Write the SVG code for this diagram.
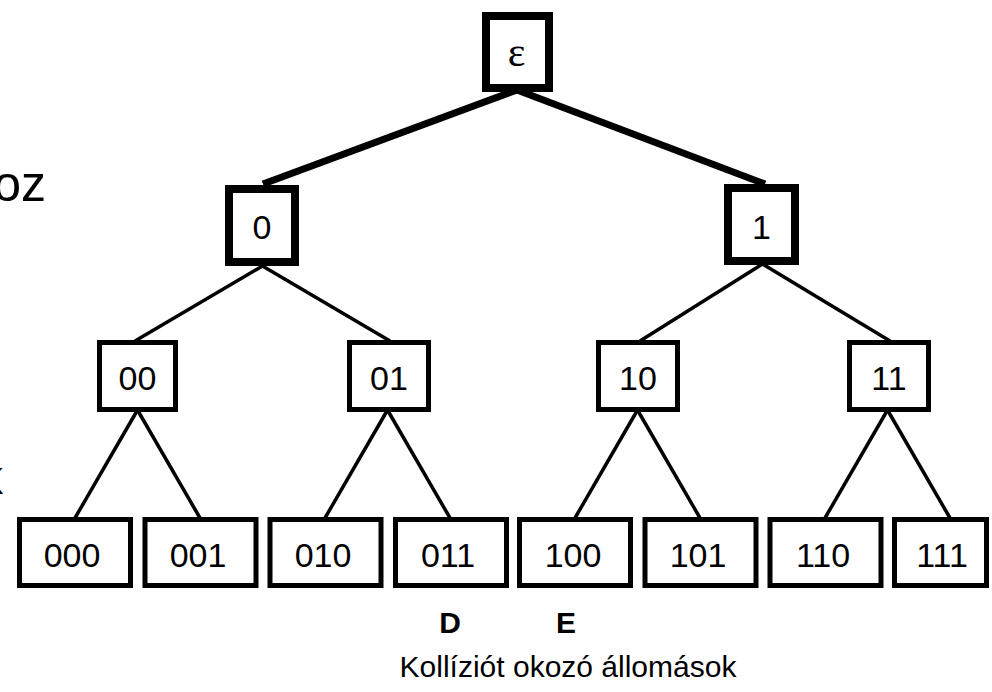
<svg xmlns="http://www.w3.org/2000/svg" width="992" height="692" viewBox="0 0 992 692">
<style>
.bx{fill:#fff;stroke:#000}
.thick{stroke-width:8}
.thin{stroke-width:5}
.t{font-family:"Liberation Sans",Arial,sans-serif;font-size:34px;text-anchor:middle;fill:#000}
.e{stroke:#000;fill:none}
</style>
<rect width="992" height="692" fill="#fff"/>
<g id="connectors">
<g class="e" stroke-width="7">
<line x1="517" y1="90" x2="263" y2="184"/>
<line x1="517" y1="90" x2="765" y2="184"/>
</g>
<g class="e" stroke-width="3.5">
<line x1="262.5" y1="266" x2="135" y2="341"/>
<line x1="262.5" y1="266" x2="390" y2="341"/>
<line x1="762.5" y1="264" x2="640" y2="341"/>
<line x1="762.5" y1="264" x2="890" y2="341"/>
<line x1="137.5" y1="410" x2="75" y2="518"/>
<line x1="137.5" y1="410" x2="200" y2="518"/>
<line x1="387.5" y1="410" x2="325" y2="518"/>
<line x1="387.5" y1="410" x2="450" y2="518"/>
<line x1="637.5" y1="410" x2="575" y2="518"/>
<line x1="637.5" y1="410" x2="700" y2="518"/>
<line x1="887.5" y1="410" x2="825" y2="518"/>
<line x1="887.5" y1="410" x2="950" y2="518"/>
</g>
</g>
<g id="n-eps"><rect class="bx thick" x="486" y="16" width="63" height="72"/><text x="516.5" y="66" font-family="Liberation Serif,Times New Roman,serif" font-size="42" text-anchor="middle">ε</text></g>
<g id="n-0"><rect class="bx thick" x="229" y="189" width="66" height="73"/><text class="t" x="262" y="239" style="font-size:34px">0</text></g>
<g id="n-1"><rect class="bx thick" x="728" y="188" width="67" height="73"/><text class="t" x="761.5" y="239" style="font-size:34px">1</text></g>
<g id="n-00"><rect class="bx thin" x="99.5" y="342.5" width="76" height="67"/><text class="t" x="137.5" y="390">00</text></g>
<g id="n-01"><rect class="bx thin" x="349.5" y="342.5" width="79" height="67"/><text class="t" x="389" y="390">01</text></g>
<g id="n-10"><rect class="bx thin" x="598.5" y="342.5" width="79" height="67"/><text class="t" x="638" y="390">10</text></g>
<g id="n-11"><rect class="bx thin" x="849.5" y="342.5" width="79" height="67"/><text class="t" x="889" y="390">11</text></g>
<g id="n-000"><rect class="bx thin" x="19.5" y="519.5" width="111" height="66"/><text class="t" x="72" y="567">000</text></g>
<g id="n-001"><rect class="bx thin" x="145" y="519.5" width="111" height="66"/><text class="t" x="198" y="567">001</text></g>
<g id="n-010"><rect class="bx thin" x="270" y="519.5" width="111" height="66"/><text class="t" x="323" y="567">010</text></g>
<g id="n-011"><rect class="bx thin" x="395.5" y="519.5" width="111" height="66"/><text class="t" x="448" y="567">011</text></g>
<g id="n-100"><rect class="bx thin" x="519.5" y="519.5" width="111" height="66"/><text class="t" x="573" y="567">100</text></g>
<g id="n-101"><rect class="bx thin" x="645" y="519.5" width="111" height="66"/><text class="t" x="698" y="567">101</text></g>
<g id="n-110"><rect class="bx thin" x="770" y="519.5" width="111" height="66"/><text class="t" x="823" y="567">110</text></g>
<g id="n-111"><rect class="bx thin" x="894.5" y="519.5" width="92" height="66"/><text class="t" x="942" y="567">111</text></g>
<text class="t" x="450" y="633" style="font-size:30px;font-weight:bold">D</text>
<text class="t" x="566" y="633" style="font-size:30px;font-weight:bold">E</text>
<text class="t" x="568" y="677" style="font-size:30px">Kollíziót okozó állomások</text>
<text x="46" y="201" font-family="Liberation Sans,Arial,sans-serif" font-size="50" text-anchor="end">oz</text>
<text x="3" y="494" font-family="Liberation Sans,Arial,sans-serif" font-size="48" text-anchor="end">k</text>
</svg>
